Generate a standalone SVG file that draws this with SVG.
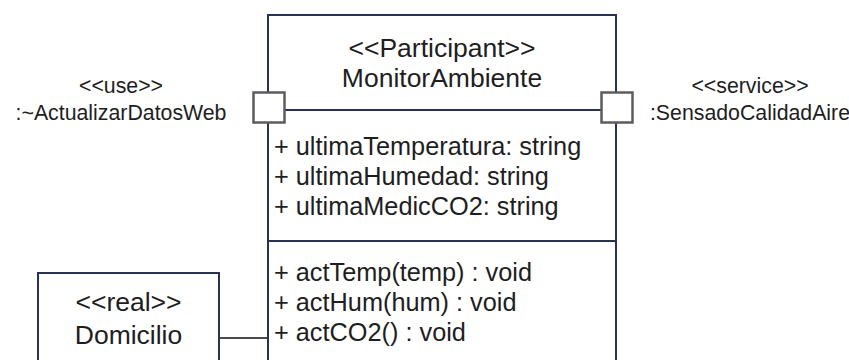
<svg xmlns="http://www.w3.org/2000/svg" width="849" height="360" viewBox="0 0 849 360">
  <style>
    .frame { fill: #ffffff; stroke: #2b3152; stroke-width: 2; }
    .divider { stroke: #2b3152; stroke-width: 2; }
    .port { fill: #ffffff; stroke: #5c5c5c; stroke-width: 2.5; }
    .link { stroke: #111111; stroke-width: 1.6; fill: none; }
    text { font-family: "Liberation Sans", Arial, sans-serif; fill: #1e1e1e; }
    .title { font-size: 26.5px; text-anchor: middle; }
    .member { font-size: 25.3px; }
    .label { font-size: 21.3px; text-anchor: middle; }
  </style>

  <rect width="849" height="360" fill="#ffffff"/>

  <!-- links between parts -->
  <g id="connectors">
    <line class="link" x1="219" y1="338" x2="268" y2="338"/>
  </g>

  <!-- main participant class -->
  <g id="monitor-ambiente">
    <rect class="frame" x="268" y="15" width="348" height="370"/>
    <line class="divider" x1="268" y1="110" x2="616" y2="110"/>
    <line class="divider" x1="268" y1="241" x2="616" y2="241"/>
    <text class="title" x="442" y="57">&lt;&lt;Participant&gt;&gt;</text>
    <text class="title" x="442" y="87">MonitorAmbiente</text>
    <text class="member" x="274" y="155">+ ultimaTemperatura: string</text>
    <text class="member" x="274" y="185">+ ultimaHumedad: string</text>
    <text class="member" x="274" y="215">+ ultimaMedicCO2: string</text>
    <text class="member" x="274" y="281">+ actTemp(temp) : void</text>
    <text class="member" x="274" y="311">+ actHum(hum) : void</text>
    <text class="member" x="274" y="341">+ actCO2() : void</text>
  </g>

  <!-- port: use -->
  <g id="port-use">
    <rect class="port" x="253.5" y="92.5" width="31" height="30"/>
    <text class="label" x="121" y="93">&lt;&lt;use&gt;&gt;</text>
    <text class="label" x="121" y="120">:~ActualizarDatosWeb</text>
  </g>

  <!-- port: service -->
  <g id="port-service">
    <rect class="port" x="601.5" y="92.5" width="31" height="30"/>
    <text class="label" x="750" y="93">&lt;&lt;service&gt;&gt;</text>
    <text class="label" x="750" y="120">:SensadoCalidadAire</text>
  </g>

  <!-- realization -->
  <g id="domicilio">
    <rect class="frame" x="38" y="273" width="181" height="110"/>
    <text class="title" x="128.5" y="311">&lt;&lt;real&gt;&gt;</text>
    <text class="title" x="128.5" y="344">Domicilio</text>
  </g>
</svg>
